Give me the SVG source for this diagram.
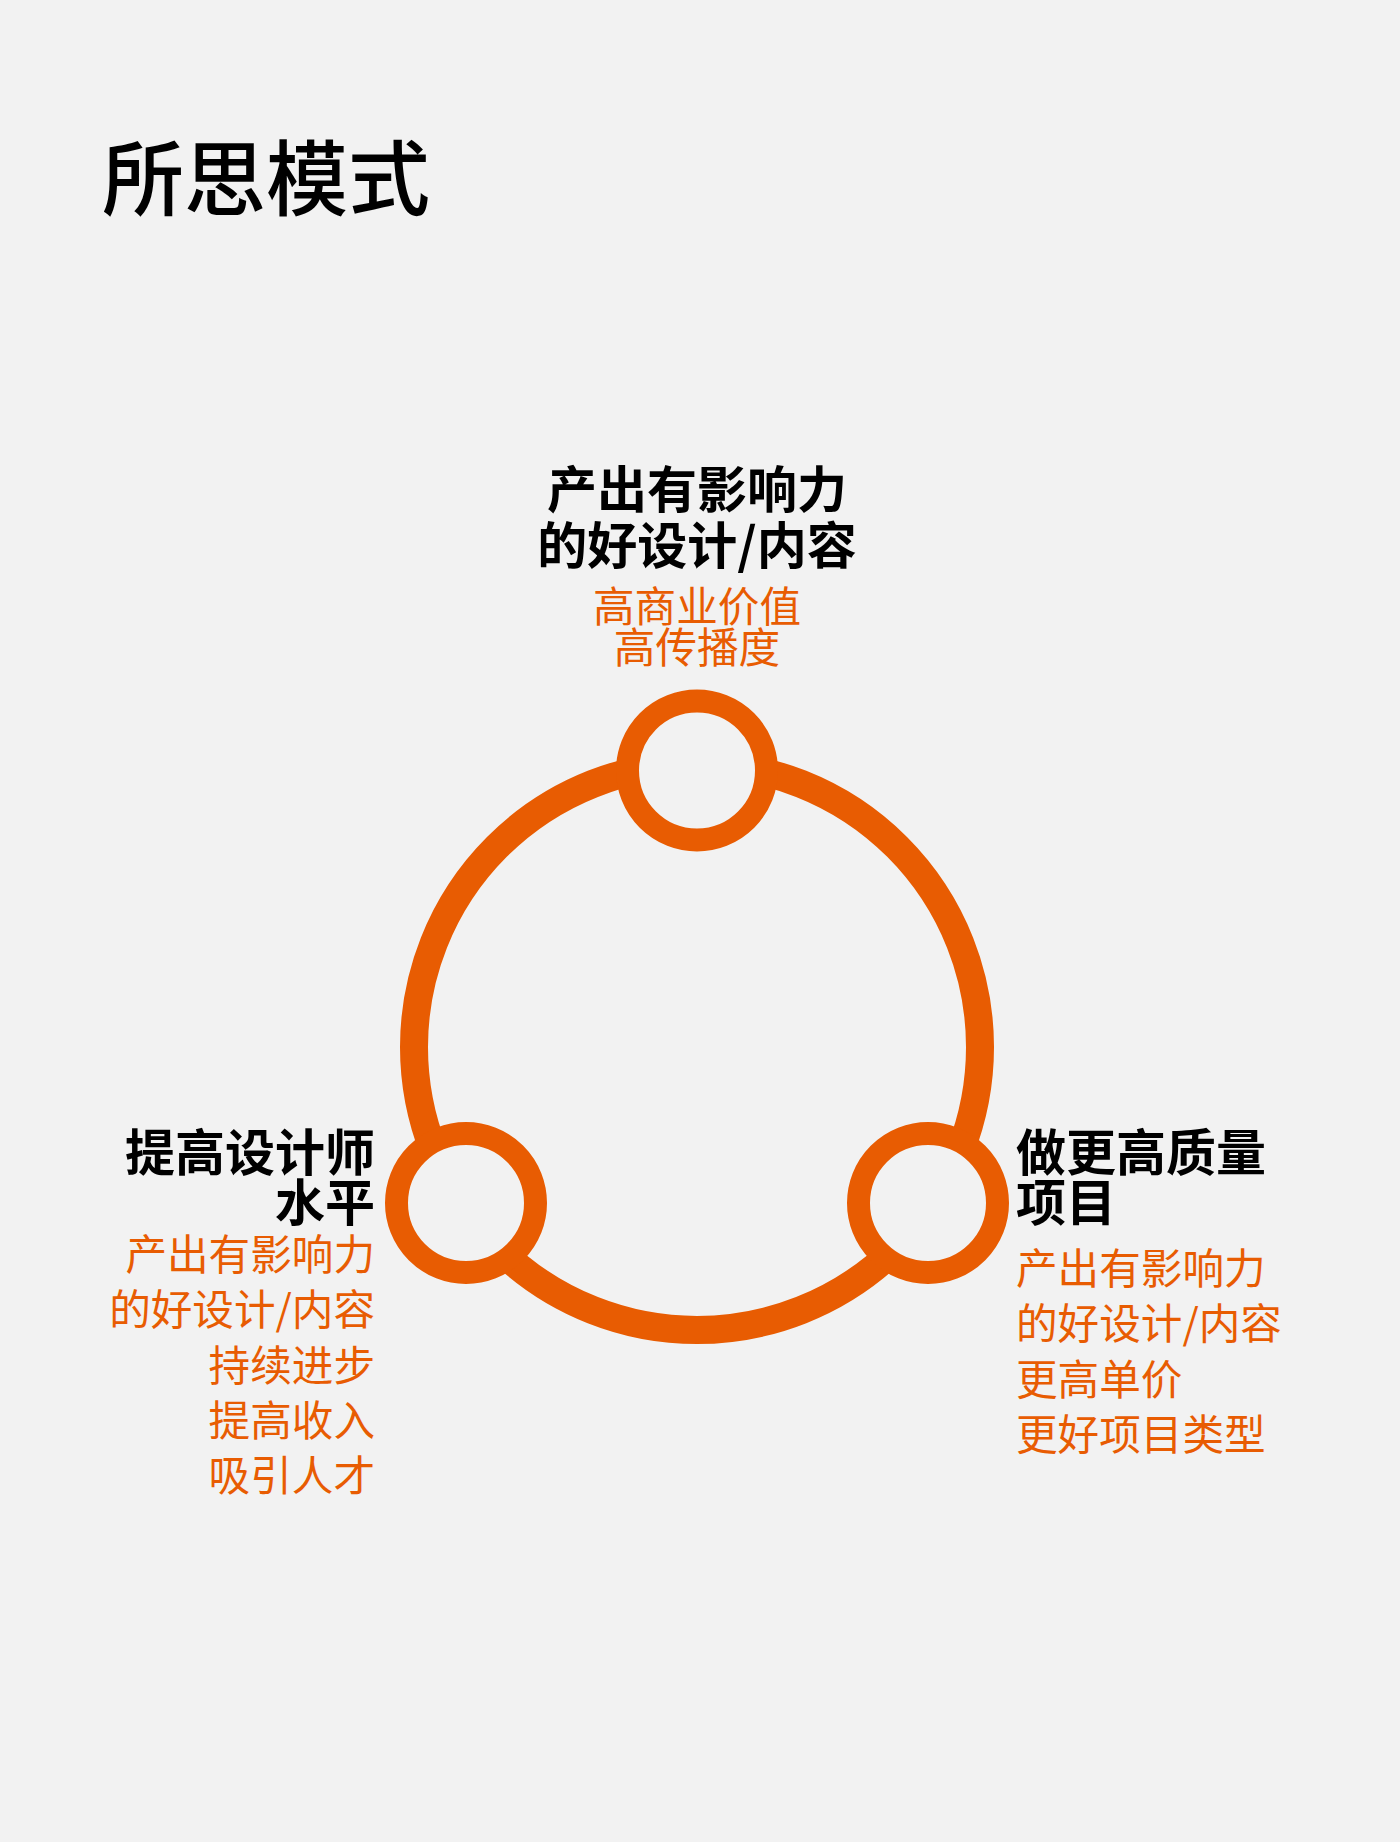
<svg xmlns="http://www.w3.org/2000/svg" width="1400" height="1842" viewBox="0 0 1400 1842">
  <style>
    .t { font-family: "Noto Sans CJK SC", "Noto Sans", "Liberation Sans", sans-serif; }
    .title { font-size: 82px; font-weight: 500; fill: #000; }
    .head { font-size: 50px; font-weight: 700; fill: #000; }
    .sub { font-size: 41.6px; font-weight: 400; fill: #E85C02; }
    .node { fill: #F2F2F2; stroke: #E85C02; stroke-width: 23; }
    .ring { fill: none; stroke: #E85C02; stroke-width: 28; }
  </style>
  <rect x="0" y="0" width="1400" height="1842" fill="#F2F2F2"/>
  <text id="title" class="t title" x="102" y="209">所思模式</text>
  <g id="connectors">
    <circle class="ring" cx="697" cy="1047" r="283"/>
  </g>
  <g id="node-top">
    <circle class="node" cx="697" cy="770.5" r="69.5"/>
    <text class="t head" x="697" y="508" text-anchor="middle">产出有影响力</text>
    <text class="t head" x="697" y="564" text-anchor="middle">的好设计/内容</text>
    <text class="t sub" x="697" y="622" text-anchor="middle">高商业价值</text>
    <text class="t sub" x="697" y="663" text-anchor="middle">高传播度</text>
  </g>
  <g id="node-left">
    <circle class="node" cx="466" cy="1203" r="69.5"/>
    <text class="t head" x="375" y="1171" text-anchor="end">提高设计师</text>
    <text class="t head" x="375" y="1221" text-anchor="end">水平</text>
    <text class="t sub" x="375" y="1270" text-anchor="end">产出有影响力</text>
    <text class="t sub" x="375" y="1325" text-anchor="end">的好设计/内容</text>
    <text class="t sub" x="375" y="1381" text-anchor="end">持续进步</text>
    <text class="t sub" x="375" y="1436" text-anchor="end">提高收入</text>
    <text class="t sub" x="375" y="1491" text-anchor="end">吸引人才</text>
  </g>
  <g id="node-right">
    <circle class="node" cx="928" cy="1203" r="69.5"/>
    <text class="t head" x="1016" y="1171">做更高质量</text>
    <text class="t head" x="1016" y="1221">项目</text>
    <text class="t sub" x="1016" y="1284">产出有影响力</text>
    <text class="t sub" x="1016" y="1339">的好设计/内容</text>
    <text class="t sub" x="1016" y="1395">更高单价</text>
    <text class="t sub" x="1016" y="1450">更好项目类型</text>
  </g>
</svg>
